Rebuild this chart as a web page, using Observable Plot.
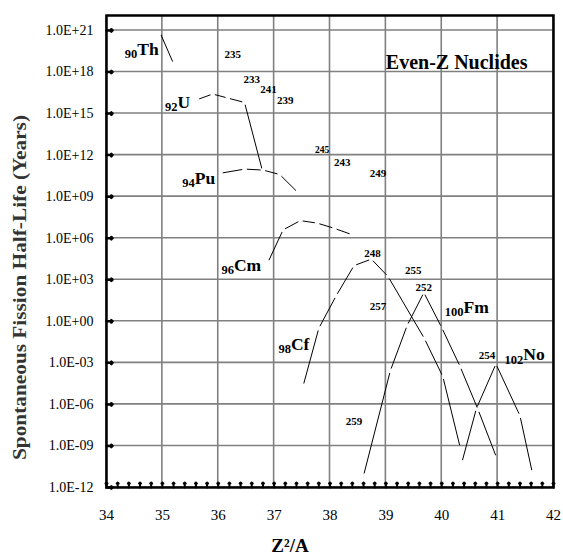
<!DOCTYPE html>
<html><head><meta charset="utf-8">
<script src="https://cdn.jsdelivr.net/npm/d3@7"></script>
<script src="https://cdn.jsdelivr.net/npm/@observablehq/plot@0.6"></script>
<style>body{margin:0;background:#fff}</style>
</head><body><div id="chart"></div>
<script>
// ---- data (x = Z^2/A, e = log10 of half-life in years) ----
const thX = [34.96, 35.20];               const thE = [20.83, 18.60];
const uX  = [35.62, 35.90, 36.17, 36.47, 36.79]; const uE = [16.00, 16.41, 16.12, 15.80, 10.88];
const puX = [36.04, 36.47, 36.80, 37.10, 37.42]; const puE = [10.69, 10.99, 10.92, 10.60, 9.32];
const cmX = [36.89, 37.16, 37.47, 37.77, 38.08, 38.39]; const cmE = [4.26, 6.60, 7.27, 7.09, 6.71, 6.26];
const cfX = [37.52, 37.80, 38.11, 38.43, 38.74, 39.04, 39.69, 40.02, 40.33];
const cfE = [-4.65, -0.50, 1.84, 4.02, 4.49, 3.23, -1.25, -4.00, -9.11];
const fmX = [38.60, 39.08, 39.38, 39.68, 40.00, 40.33, 40.65, 40.98];
const fmE = [-11.15, -3.57, -0.31, 2.07, -0.46, -3.28, -6.38, -9.83];
const noX = [40.36, 40.62, 40.97, 41.40, 41.62];
const noE = [-10.19, -6.30, -3.08, -6.82, -10.91];

// element labels
const elSym = ["Th", "U", "Pu", "Cm", "Cf", "Fm", "No"];
const elZ   = ["90", "92", "94", "96", "98", "100", "102"];
const elX   = [34.55, 35.27, 35.58, 36.28, 37.30, 40.39, 41.46];
const elE   = [19.66, 15.82, 10.34, 4.03, -1.64, 1.04, -2.41];

// isotope mass-number labels
const numT = ["235", "233", "241", "239", "245", "243", "249", "248", "255", "252", "257", "254", "259"];
const numX = [36.26, 36.60, 36.90, 37.20, 37.86, 38.22, 38.86, 38.76, 39.49, 39.68, 38.86, 40.81, 38.43];
const numE = [19.25, 17.44, 16.77, 15.93, 12.38, 11.50, 10.70, 4.92, 3.64, 2.47, 1.04, -2.45, -7.25];

const xTicks = [34, 35, 36, 37, 38, 39, 40, 41, 42];
const yExps  = [-12, -9, -6, -3, 0, 3, 6, 9, 12, 15, 18, 21];
const xMinor = d3.range(0, 41).map(i => 34 + i * 0.2);

const title = "Even-Z Nuclides";
const xLabel = "Z\u00B2/A";
const yLabel = "Spontaneous Fission Half-Life (Years)";

// ---- build tables ----
const series = [thX, thE, uX, uE, puX, puE, cmX, cmE, cfX, cfE, fmX, fmE, noX, noE];
const segs = [];
for (let s = 0; s < series.length; s += 2) {
  const xs = series[s], es = series[s + 1];
  for (let i = 0; i < xs.length - 1; i++)
    segs.push({x1: xs[i], y1: 10 ** es[i], x2: xs[i + 1], y2: 10 ** es[i + 1]});
}
const els = elSym.map((s, i) => ({s, z: elZ[i], x: elX[i], y: 10 ** elE[i]}));
const nums = numT.map((t, i) => ({t, x: numX[i], y: 10 ** numE[i]}));
const yTicks = yExps.map(e => 10 ** e);
const fmt = v => { const e = Math.round(Math.log10(v)); return "1.0E" + (e < 0 ? "-" : "+") + String(Math.abs(e)).padStart(2, "0"); };

const W = 563, H = 555, mL = 106, mR = 10, mT = 15, mB = 68;
const serif = "'Liberation Serif', 'Times New Roman', serif";
const xDom = [34, 42], yDom = [1e-12, 10 ** 22.08];

const chart = Plot.plot({
  width: W, height: H, marginLeft: mL, marginRight: mR, marginTop: mT, marginBottom: mB,
  style: {fontFamily: serif, background: "white", color: "black"},
  x: {domain: xDom},
  y: {type: "log", domain: yDom},
  marks: [
    Plot.axisX(xTicks, {tickSize: 0, tickPadding: 22, fontSize: 15, label: null}),
    Plot.axisY(yTicks, {tickSize: 0, tickPadding: 13, fontSize: 14, tickFormat: fmt, label: null}),
    Plot.arrow(segs, {x1: "x1", y1: "y1", x2: "x2", y2: "y2", headLength: 0,
      insetStart: 2.3, insetEnd: 2.3, stroke: "black", strokeWidth: 1, strokeLinecap: "butt"}),
    Plot.vector(xMinor, {x: d => d, y: () => yDom[0], length: 5, rotate: 0, anchor: "start", stroke: "black", strokeWidth: 2}),
    Plot.vector(yTicks, {x: () => xDom[0], y: d => d, length: 6, rotate: 90, anchor: "start", stroke: "black", strokeWidth: 2.5}),
    Plot.text(els, {x: "x", y: "y", text: "s", textAnchor: "start", fontSize: 17.5, fontWeight: "bold", fill: "black"}),
    Plot.text(els, {x: "x", y: "y", text: "z", textAnchor: "end", dy: 5, fontSize: 12.5, fontWeight: "bold", fill: "black"}),
    Plot.text(nums, {x: "x", y: "y", text: "t", fontSize: d => d.t === "245" ? 9.5 : 11, fontWeight: "bold", fill: "black"}),
    Plot.text([title], {frameAnchor: "top-right", textAnchor: "end", lineAnchor: "middle", dx: -26, dy: 47, fontSize: 20, fontWeight: "bold", fill: "black"}),
    Plot.text([xLabel], {frameAnchor: "bottom", textAnchor: "middle", lineAnchor: "middle", dx: -40, dy: 58, fontSize: 19, fontWeight: "bold", fill: "black"}),
    Plot.text([yLabel], {frameAnchor: "left", textAnchor: "middle", lineAnchor: "middle", rotate: -90, dx: -86, dy: 36, fontSize: 18.5, fontWeight: "bold", fill: "#333"}),
    Plot.frame({stroke: "black", strokeWidth: 2.5})
  ]
});

// gridlines positioned through the chart's own Plot scales, placed beneath all marks
const sx = chart.scale("x"), sy = chart.scale("y");
const px0 = sx.apply(xDom[0]), px1 = sx.apply(xDom[1]);
const py0 = sy.apply(yDom[0]), py1 = sy.apply(yDom[1]);
const svg = d3.select(chart);
const firstG = chart.querySelector("g");
const grid = d3.create("svg:g").attr("aria-label", "grid")
  .attr("stroke", "#808080").attr("stroke-width", 1.6).attr("fill", "none");
for (const v of xTicks) {
  const p = sx.apply(v);
  grid.append("line").attr("x1", p).attr("x2", p).attr("y1", py0).attr("y2", py1);
}
for (const v of yTicks) {
  const p = sy.apply(v);
  grid.append("line").attr("x1", px0).attr("x2", px1).attr("y1", p).attr("y2", p);
}
chart.insertBefore(grid.node(), firstG);

svg.selectAll("text").filter(function () { return this.textContent === yLabel; })
  .attr("textLength", 345).attr("lengthAdjust", "spacingAndGlyphs");
document.getElementById("chart").appendChild(chart);
</script>
</body></html>
